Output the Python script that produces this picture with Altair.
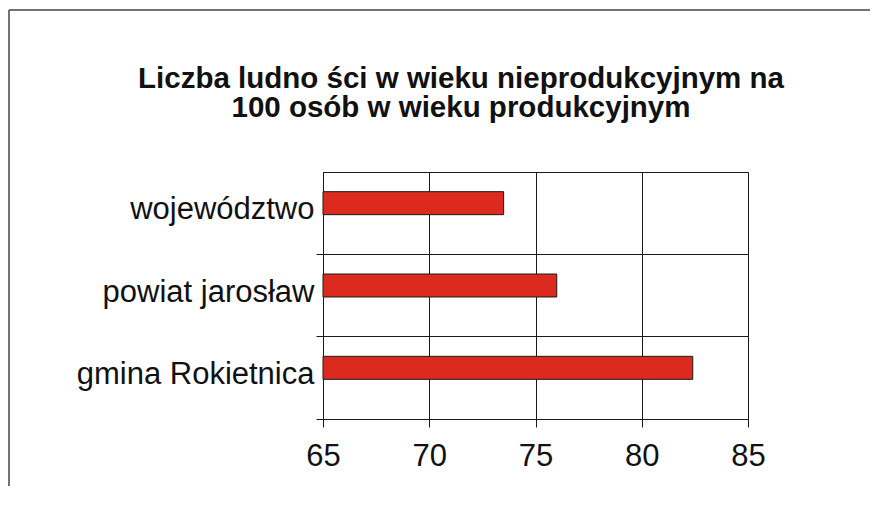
import altair as alt
import pandas as pd

# ---- data ----
categories = ["województwo", "powiat jarosław", "gmina Rokietnica"]
values = [73.5, 76.0, 82.4]
x_ticks = [65, 70, 75, 80, 85]
title_lines = ["Liczba ludno ści w wieku nieprodukcyjnym na", "100 osób w wieku produkcyjnym"]

df = pd.DataFrame({"kategoria": categories, "wartosc": values})
one = pd.DataFrame({"k": [0]})

LINE = "#1a1a1a"
TEXT = "#111111"
FONT = "Liberation Sans"

PLOT_W, PLOT_H = 425, 247
PAD_L, PAD_T = 315, 164
TOTAL_W, TOTAL_H = 862, 478

bars = alt.Chart(df).mark_bar(
    color="#DC2A1E", stroke=LINE, strokeWidth=1, size=23, yOffset=-10
).encode(
    x=alt.X(
        "wartosc:Q",
        scale=alt.Scale(domain=[x_ticks[0], x_ticks[-1]], zero=False, nice=False),
        axis=alt.Axis(
            values=x_ticks, title=None, grid=True, gridColor=LINE, gridOpacity=1,
            gridWidth=1, domainColor=LINE, domainWidth=1, tickColor=LINE, tickSize=8,
            labelFontSize=31, labelFont=FONT, labelColor=TEXT, labelPadding=14,
            labelFlush=False,
        ),
    ),
    x2=alt.datum(x_ticks[0]),
    y=alt.Y(
        "kategoria:N",
        sort=categories,
        scale=alt.Scale(paddingInner=0, paddingOuter=0),
        axis=alt.Axis(
            title=None, bandPosition=1, grid=True, gridColor=LINE, gridOpacity=1,
            gridWidth=1, domainColor=LINE, domainWidth=1, tickColor=LINE, tickSize=7,
            labelFontSize=31, labelFont=FONT, labelColor=TEXT, labelPadding=2,
            labelOffset=-3, labelLimit=0,
        ),
    ),
)

# outer chart-area border (top and left edges visible in the reference)
frame_top = alt.Chart(one).mark_rule(stroke="#444444", strokeWidth=1.5).encode(
    x=alt.value(9 - 323), x2=alt.value(700), y=alt.value(10 - 172)
)
frame_left = alt.Chart(one).mark_rule(stroke="#444444", strokeWidth=1.5).encode(
    x=alt.value(9 - 323), y=alt.value(10 - 172), y2=alt.value(700)
)

title = alt.Chart(one).mark_text(
    font=FONT, fontSize=29.5, fontWeight="bold", color=TEXT,
    align="center", baseline="alphabetic", lineHeight=28.5,
).encode(
    x=alt.value(461 - 323), y=alt.value(88 - 172), text=alt.value(title_lines)
)

chart = alt.layer(frame_top, frame_left, title, bars).properties(
    width=PLOT_W, height=PLOT_H,
    autosize=alt.AutoSizeParams(type="none"),
    padding={"left": PAD_L, "top": PAD_T, "right": TOTAL_W - PAD_L - PLOT_W,
             "bottom": TOTAL_H - PAD_T - PLOT_H},
    background="white",
).configure_view(stroke=LINE, strokeWidth=1)

chart.save("out.html", embed_options={"renderer": "svg", "actions": False})
